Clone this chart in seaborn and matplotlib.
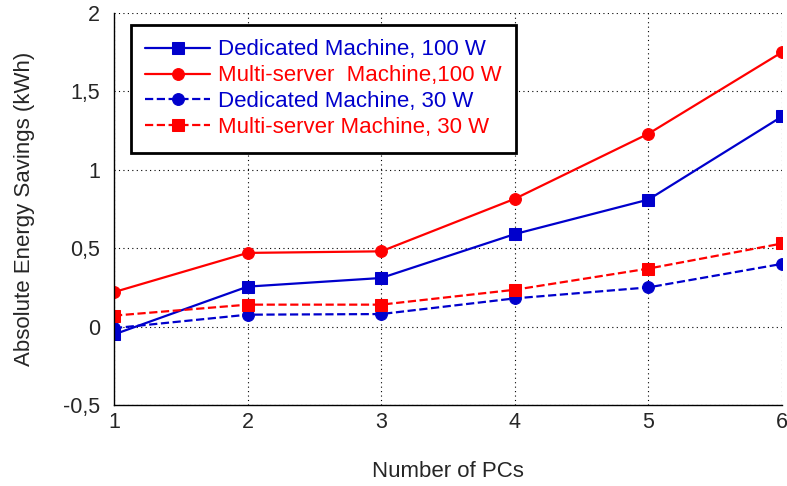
import pandas as pd
import numpy as np
import matplotlib.pyplot as plt
import seaborn as sns
from matplotlib.ticker import FuncFormatter

pcs = [1, 2, 3, 4, 5, 6]
dedicated_100 = [-0.05, 0.255, 0.31, 0.59, 0.81, 1.34]
multi_100 = [0.22, 0.47, 0.48, 0.815, 1.23, 1.75]
dedicated_30 = [-0.01, 0.076, 0.08, 0.18, 0.25, 0.40]
multi_30 = [0.07, 0.14, 0.14, 0.235, 0.37, 0.53]

labels = ["Dedicated Machine, 100 W", "Multi-server  Machine,100 W",
          "Dedicated Machine, 30 W", "Multi-server Machine, 30 W"]

sns.set_style("white")
plt.rcParams['font.family'] = ['Liberation Sans', 'DejaVu Sans']

blue = '#0000CC'
red = '#FF0000'

fig = plt.figure(figsize=(7.87, 4.86), dpi=100)
ax = fig.add_axes([114 / 787, 1 - 405 / 486, (782 - 114) / 787, (405 - 13) / 486])

#---------------------------------------------------------------LINES---------------------------------------------------------------
series = [(dedicated_100, blue, '-', 's'),
          (multi_100, red, '-', 'o'),
          (dedicated_30, blue, '--', 'o'),
          (multi_30, red, '--', 's')]
for (vals, col, ls, mk), lab in zip(series, labels):
    sns.lineplot(x=pcs, y=vals, ax=ax, color=col, linestyle=ls, marker=mk,
                 markersize=8.5, markeredgecolor=col, linewidth=1.6, label=lab)

ax.set_xlim(1, 6)
ax.set_ylim(-0.5, 2)
ax.set_xticks(pcs)
ax.set_yticks([-0.5, 0, 0.5, 1, 1.5, 2])
ax.yaxis.set_major_formatter(FuncFormatter(lambda v, p: ('%g' % v).replace('.', ',')))
ax.grid(True, color='black', linestyle=(0, (1, 3)), linewidth=0.8)
ax.tick_params(labelsize=15.5, direction='in', length=5)
ax.tick_params(axis='y', pad=10)
ax.tick_params(axis='x', pad=5)
for s in ['top', 'right']:
    ax.spines[s].set_visible(False)
for s in ['left', 'bottom']:
    ax.spines[s].set_color('black')
    ax.spines[s].set_linewidth(1.0)

ax.set_xlabel("Number of PCs", fontsize=16, labelpad=20)
ax.set_ylabel("Absolute Energy Savings (kWh)", fontsize=16, labelpad=20)

leg = ax.legend(loc='upper left', bbox_to_anchor=((131 - 114) / 668, (405 - 25) / 392),
                borderaxespad=0, fontsize=16,
                frameon=True, fancybox=False, framealpha=1, handlelength=2.9,
                labelspacing=0.22, borderpad=0.65, handletextpad=0.35)
leg.get_frame().set_edgecolor('black')
leg.get_frame().set_linewidth(2)
for txt, (vals, col, ls, mk) in zip(leg.get_texts(), series):
    txt.set_color(col)

plt.savefig("out.png", dpi=100)
plt.close()
